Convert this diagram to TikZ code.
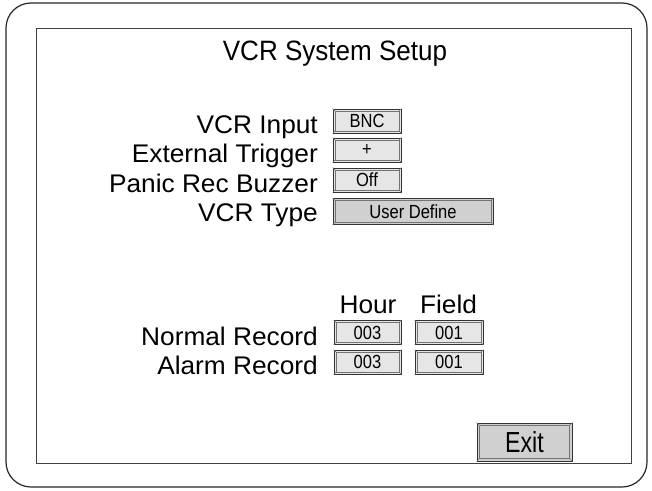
\documentclass[tikz,border=0pt]{standalone}
\usepackage{fontspec}
\setmainfont{Liberation Sans}
\newfontfamily\uifont[FakeStretch=1.03]{Liberation Sans}
\newfontfamily\titlefont[FakeStretch=0.93]{Liberation Sans}
\newfontfamily\btnfont[FakeStretch=0.87]{Liberation Sans}
\newfontfamily\exitfont[FakeStretch=0.8]{Liberation Sans}
\definecolor{btnlight}{HTML}{E6E6E6}
\definecolor{btndark}{HTML}{D0D0D0}
\tikzset{
  frame/.style={draw=black!85, line width=1.2pt, rounded corners=25pt},
  panel/.style={draw=black!75, line width=0.8pt},
  title/.style={font=\titlefont\fontsize{28}{30}\selectfont, anchor=base, inner sep=0pt},
  lbl/.style={font=\uifont\fontsize{25.5}{27}\selectfont, anchor=base east, inner sep=0pt},
  head/.style={font=\uifont\fontsize{25.5}{27}\selectfont, anchor=base, inner sep=0pt},
  btn/.style={draw=black!80, line width=0.9pt, inner sep=0pt, font=\btnfont\fontsize{19}{20}\selectfont},
  bevel/.style={draw=black!55, line width=0.6pt},
}
\newcommand{\btn}[7]{%
  \node[btn, minimum width=#4pt, minimum height=#5pt, fill=#6] (#1) at (#2,#3) {#7};
  \draw[bevel] ([shift={(2.6pt,2.6pt)}]#1.south west) rectangle ([shift={(-2.6pt,-2.6pt)}]#1.north east);
  \draw[bevel] (#1.south west) -- ++(2.6pt,2.6pt);
  \draw[bevel] (#1.south east) -- ++(-2.6pt,2.6pt);
  \draw[bevel] (#1.north west) -- ++(2.6pt,-2.6pt);
  \draw[bevel] (#1.north east) -- ++(-2.6pt,-2.6pt);
}
\begin{document}
\begin{tikzpicture}[x=1pt,y=-1pt]
\useasboundingbox (0,0) rectangle (652,490);
\draw[frame] (6,3) rectangle (647,487);
\draw[panel] (36,28) rectangle (631,463);

\node[title] (t) at (335,60) {VCR System Setup};

\node[lbl] (l1) at (318,133) {VCR Input};
\node[lbl] (l2) at (318,162) {External Trigger};
\node[lbl] (l3) at (318,192) {Panic Rec Buzzer};
\node[lbl] (l4) at (318,221) {VCR Type};

\btn{b1}{367}{121}{68}{24}{btnlight}{BNC}
\btn{b2}{367}{150}{68}{24}{btnlight}{+}
\btn{b3}{367}{180}{68}{24}{btnlight}{Off}
\btn{b4}{413}{211.5}{160}{26}{btndark}{User Define}

\node[head] (h1) at (368,313) {Hour};
\node[head] (h2) at (448.5,313) {Field};

\node[lbl] (l5) at (318,345) {Normal Record};
\node[lbl] (l6) at (318,374) {Alarm Record};

\btn{n1}{367.5}{332.5}{67}{24}{btnlight}{003}
\btn{n2}{449}{332.5}{68}{24}{btnlight}{001}
\btn{a1}{367.5}{362}{67}{24}{btnlight}{003}
\btn{a2}{449}{362}{68}{24}{btnlight}{001}

\node[btn, minimum width=95pt, minimum height=38pt, fill=btndark, font=\exitfont\fontsize{29}{30}\selectfont] (ex) at (524.5,442) {Exit};
\draw[bevel] ([shift={(3pt,3pt)}]ex.south west) rectangle ([shift={(-3pt,-3pt)}]ex.north east);
\draw[bevel] (ex.south west) -- ++(3pt,3pt);
\draw[bevel] (ex.south east) -- ++(-3pt,3pt);
\draw[bevel] (ex.north west) -- ++(3pt,-3pt);
\draw[bevel] (ex.north east) -- ++(-3pt,-3pt);
\end{tikzpicture}
\end{document}
